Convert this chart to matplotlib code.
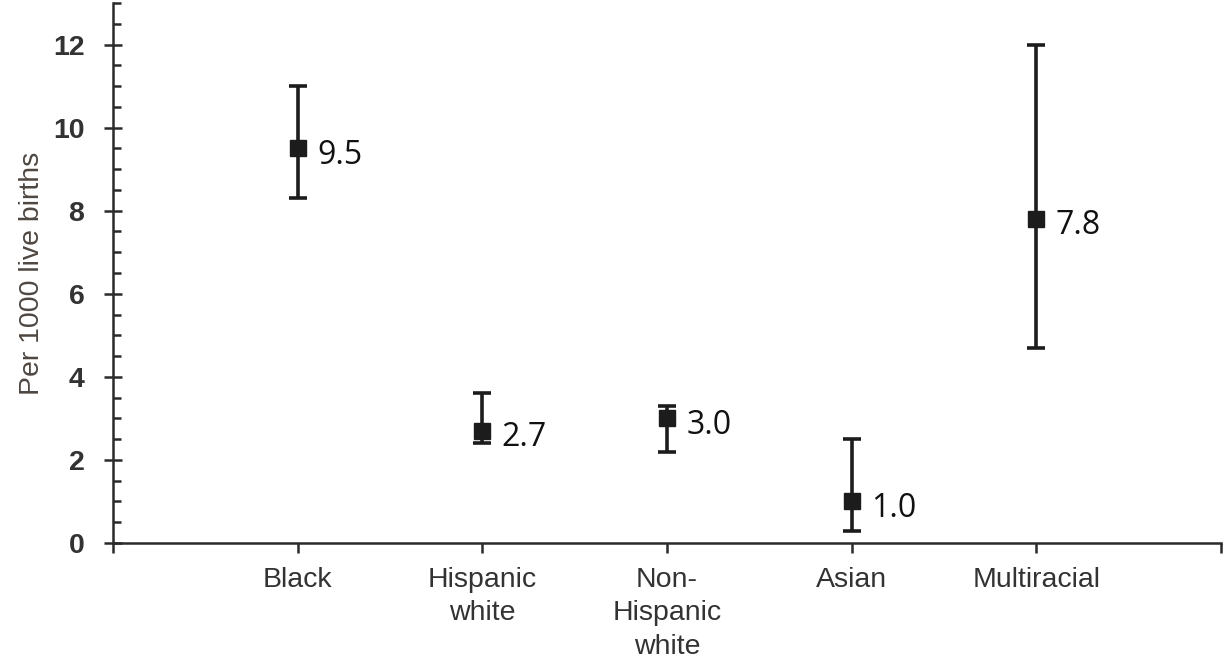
import matplotlib
matplotlib.use("Agg")
import matplotlib.pyplot as plt
from matplotlib.ticker import MultipleLocator, FixedLocator

# Rates per 1000 live births with 95% confidence limits
groups = ["Black", "Hispanic\nwhite", "Non-\nHispanic\nwhite", "Asian", "Multiracial"]
rates = [9.5, 2.7, 3.0, 1.0, 7.8]
ci_low = [8.3, 2.4, 2.2, 0.3, 4.7]
ci_high = [11.0, 3.6, 3.3, 2.5, 12.0]
rate_labels = ["9.5", "2.7", "3.0", "1.0", "7.8"]

ink = "#1c1c1c"
axis_col = "#2a2a2a"
text_col = "#333333"

fig = plt.figure(figsize=(12.25, 6.62), dpi=100)
ax = fig.add_axes([0.0922, 0.1798, 0.9045, 0.8157])

xpos = list(range(1, len(groups) + 1))
yerr = [[r - lo for r, lo in zip(rates, ci_low)],
        [hi - r for r, hi in zip(rates, ci_high)]]

ax.errorbar(xpos, rates, yerr=yerr, fmt="s", color=ink, ecolor=ink,
            markersize=11, elinewidth=2.6, capsize=6.5, capthick=2.6, zorder=3)

for x, y, lab in zip(xpos, rates, rate_labels):
    ax.annotate(lab, (x, y), xytext=(14, -5), textcoords="offset points",
                ha="left", va="center", fontsize=23, family="Open Sans",
                color="#111111")

ax.set_xlim(0, 6)
ax.set_ylim(0, 13)

ax.xaxis.set_major_locator(FixedLocator([0, 1, 2, 3, 4, 5, 6]))
ax.set_xticklabels([""] + groups + [""], fontsize=20.5, family="Liberation Sans",
                   color=text_col, linespacing=1.38, va="top")
ax.yaxis.set_major_locator(MultipleLocator(2))
ax.yaxis.set_minor_locator(MultipleLocator(0.5))
ax.tick_params(axis="y", which="major", direction="inout", length=13, width=1.8,
               color=axis_col, labelsize=20.5, labelcolor=text_col, pad=14)
ax.tick_params(axis="y", which="minor", direction="in", length=6, width=1.8,
               color=axis_col)
ax.tick_params(axis="x", which="major", direction="out", length=7, width=1.8,
               color=axis_col, pad=10)
for lab in ax.get_yticklabels():
    lab.set_fontweight("bold")
    lab.set_family("Liberation Sans")

for side in ("top", "right"):
    ax.spines[side].set_visible(False)
for side in ("left", "bottom"):
    ax.spines[side].set_linewidth(1.8)
    ax.spines[side].set_color(axis_col)

ax.set_ylabel("Per 1000 live births", fontsize=20.5, family="Liberation Sans",
              color="#4e4640", labelpad=6)

fig.savefig("out.png", dpi=100)
